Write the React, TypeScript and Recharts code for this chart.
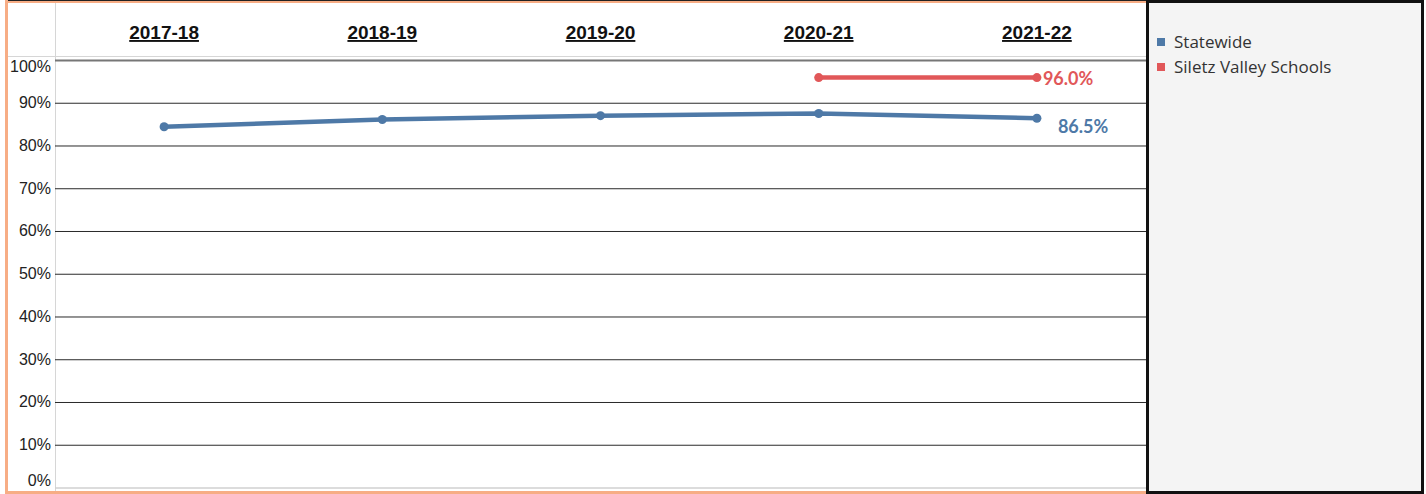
import { LineChart, Line, XAxis, YAxis, CartesianGrid, ReferenceLine, LabelList } from "recharts";

const seasons = ["2017-18", "2018-19", "2019-20", "2020-21", "2021-22"];
const statewide = [84.5, 86.2, 87.1, 87.6, 86.5];
const siletz = [null, null, null, 96.0, 96.0];
const yTicks = [0, 10, 20, 30, 40, 50, 60, 70, 80, 90, 100];

const BLUE = "#4e79a7";
const RED = "#e15759";
const ORANGE = "#f7ad85";

const chartData = seasons.map((season, i) => ({
  season,
  statewide: statewide[i],
  siletz: siletz[i],
}));

const HeaderTick = (props: any) => {
  const { x, payload } = props;
  return (
    <text
      x={x}
      y={36}
      textAnchor="middle"
      fontFamily="'Liberation Sans', Arial, sans-serif"
      fontWeight={700}
      fontSize={19}
      fill="#111"
      textDecoration="underline"
    >
      {payload.value}
    </text>
  );
};

const PctTick = (props: any) => {
  const { x, y, payload } = props;
  let dy = 5;
  if (payload.value === 100) dy = 12;
  if (payload.value === 0) dy = -2;
  return (
    <text
      x={x}
      y={y + dy}
      textAnchor="end"
      fontFamily="'Liberation Sans', Arial, sans-serif"
      fontSize={16}
      fill="#222"
    >
      {payload.value}%
    </text>
  );
};

const lastLabel = (color: string, dx: number, dy: number) => (props: any) => {
  const { x, y, index, value } = props;
  if (index !== seasons.length - 1 || value == null) return null;
  return (
    <text
      x={x + dx}
      y={y + dy}
      fontFamily="Lato, 'Open Sans', sans-serif"
      fontWeight={700}
      fontSize={18}
      fill={color}
    >
      {Number(value).toFixed(1)}%
    </text>
  );
};

const legendItems = [
  { name: "Statewide", color: BLUE },
  { name: "Siletz Valley Schools", color: RED },
];

export default function App() {
  return (
    <div style={{ position: "relative", width: 1426, height: 494, background: "#fff", overflow: "hidden" }}>
      <style>{`body{margin:0}`}</style>
      {/* frame */}
      <div style={{ position: "absolute", left: 5, top: 0, width: 1141, height: 1, background: "#222" }} />
      <div style={{ position: "absolute", left: 5, top: 1, width: 1141, height: 2, background: ORANGE }} />
      <div style={{ position: "absolute", left: 5, top: 0, width: 3, height: 494, background: ORANGE }} />
      <div style={{ position: "absolute", left: 5, top: 491, width: 1141, height: 3, background: ORANGE }} />
      <div style={{ position: "absolute", left: 8, top: 56, width: 1138, height: 1, background: "#d6d6d6" }} />
      <div style={{ position: "absolute", left: 55, top: 3, width: 1, height: 488, background: "#d6d6d6" }} />

      <div style={{ position: "absolute", left: 8, top: 3 }}>
        <LineChart width={1138} height={488} data={chartData} margin={{ top: 0, right: 0, bottom: 3, left: 0 }}>
          <CartesianGrid vertical={false} horizontalValues={[10, 20, 30, 40, 50, 60, 70, 80, 90]} stroke="#2a2a2a" />
          <ReferenceLine y={100} stroke="#777" strokeWidth={2} />
          <ReferenceLine y={0} stroke="#d0d0d0" strokeWidth={1.5} />
          <XAxis
            dataKey="season"
            orientation="top"
            scale="band"
            height={53}
            axisLine={false}
            tickLine={false}
            tick={<HeaderTick />}
            interval={0}
          />
          <YAxis
            domain={[0, 101.05]}
            ticks={yTicks}
            width={47}
            axisLine={false}
            tickLine={false}
            tickSize={0}
            tickMargin={4}
            tick={<PctTick />}
            interval={0}
          />
          <Line
            dataKey="statewide"
            stroke={BLUE}
            strokeWidth={4.5}
            dot={{ r: 4.5, fill: BLUE, stroke: BLUE, strokeWidth: 0 }}
            activeDot={false}
            isAnimationActive={false}
          >
            <LabelList dataKey="statewide" content={lastLabel(BLUE, 21, 15)} />
          </Line>
          <Line
            dataKey="siletz"
            stroke={RED}
            strokeWidth={4.5}
            dot={{ r: 4.5, fill: RED, stroke: RED, strokeWidth: 0 }}
            activeDot={false}
            connectNulls={false}
            isAnimationActive={false}
          >
            <LabelList dataKey="siletz" content={lastLabel(RED, 6, 7)} />
          </Line>
        </LineChart>
      </div>

      {/* legend panel */}
      <div
        style={{
          position: "absolute",
          left: 1146,
          top: 0,
          width: 278,
          height: 494,
          boxSizing: "border-box",
          border: "3px solid #111",
          background: "#f4f4f4",
          paddingTop: 26,
          paddingLeft: 8,
          fontFamily: "'Open Sans', sans-serif",
          fontSize: 17,
          color: "#333",
        }}
      >
        {legendItems.map((item) => (
          <div key={item.name} style={{ display: "flex", alignItems: "center", height: 25 }}>
            <span style={{ display: "inline-block", width: 8, height: 8, background: item.color, marginRight: 9 }} />
            <span>{item.name}</span>
          </div>
        ))}
      </div>
    </div>
  );
}
